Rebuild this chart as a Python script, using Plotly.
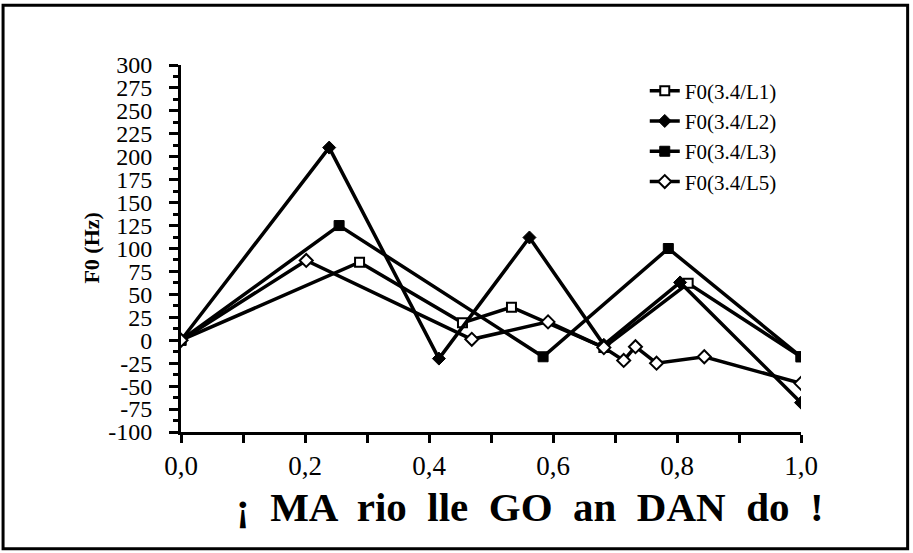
import plotly.graph_objects as go

# Normalised time (0..1) and F0 excursion in Hz for each speaker
t_l1 = [0.0, 0.288, 0.454, 0.533, 0.682, 0.818, 1.0]
f0_l1 = [0, 85, 19, 36, -8, 62, -18]

t_l2 = [0.0, 0.239, 0.416, 0.562, 0.682, 0.805, 1.0]
f0_l2 = [0, 210, -20, 112, -5, 63, -68]

t_l3 = [0.0, 0.255, 0.584, 0.786, 1.0]
f0_l3 = [0, 125, -18, 100, -18]

t_l5 = [0.0, 0.202, 0.469, 0.592, 0.682, 0.714, 0.733, 0.767, 0.844, 1.0]
f0_l5 = [0, 87, 1, 20, -8, -22, -7, -25, -18, -47]

series_names = ["F0(3.4/L1)", "F0(3.4/L2)", "F0(3.4/L3)", "F0(3.4/L5)"]
y_ticks = list(range(-100, 301, 25))
y_ticktext = [str(v) for v in y_ticks]          # plain hyphen for negatives
x_ticks = [0.0, 0.2, 0.4, 0.6, 0.8, 1.0]
x_title = "¡  MA  rio  lle  GO  an  DAN  do  !"
y_title = "F0 (Hz)"

SERIF = "Liberation Serif, Times New Roman, serif"

styles = [
    dict(symbol="square", size=9, color="white", line=dict(color="black", width=2)),
    dict(symbol="diamond", size=10, color="black", line=dict(color="black", width=1)),
    dict(symbol="square", size=10, color="black", line=dict(color="black", width=1)),
    dict(symbol="diamond", size=10, color="white", line=dict(color="black", width=2)),
]

fig = go.Figure()
for name, xs, ys, mk in zip(series_names,
                            [t_l1, t_l2, t_l3, t_l5],
                            [f0_l1, f0_l2, f0_l3, f0_l5],
                            styles):
    fig.add_trace(go.Scatter(
        x=xs, y=ys, name=name, mode="lines+markers",
        line=dict(color="black", width=3.5),
        marker=mk,
    ))

fig.update_layout(
    width=913, height=553,
    margin=dict(l=181, r=112, t=65, b=121),
    paper_bgcolor="white", plot_bgcolor="white",
    font=dict(family=SERIF, color="black", size=24),
    separators=",.",
    showlegend=True,
    legend=dict(
        x=0.748, y=0.985, xanchor="left", yanchor="top",
        bgcolor="rgba(0,0,0,0)",
        font=dict(family=SERIF, size=21, color="black"),
        itemwidth=30, tracegroupgap=0,
    ),
    xaxis=dict(
        range=[0, 1.0], tickvals=x_ticks, tickformat=".1f",
        showgrid=False, zeroline=False,
        showline=True, linecolor="black", linewidth=3,
        ticks="outside", ticklen=8, tickwidth=3, tickcolor="black",
        minor=dict(dtick=0.1, ticks="outside", ticklen=8, tickwidth=3, tickcolor="black"),
        tickfont=dict(family=SERIF, size=27),
    ),
    yaxis=dict(
        range=[-100, 300], tickvals=y_ticks, ticktext=y_ticktext,
        showgrid=False, zeroline=False,
        showline=True, linecolor="black", linewidth=3,
        ticks="outside", ticklen=9, tickwidth=3, tickcolor="black",
        ticklabelstandoff=12,
        minor=dict(dtick=12.5, ticks="outside", ticklen=5, tickwidth=3, tickcolor="black"),
        tickfont=dict(family=SERIF, size=24),
    ),
    annotations=[
        dict(text="<b>" + x_title + "</b>", xref="paper", yref="paper",
             x=0.563, y=-0.205, xanchor="center", yanchor="middle", showarrow=False,
             font=dict(family=SERIF, size=41, color="black")),
        dict(text="<b>" + y_title + "</b>", xref="paper", yref="paper",
             x=-0.145, y=0.5, xanchor="center", yanchor="middle", showarrow=False,
             textangle=-90, font=dict(family=SERIF, size=22, color="black")),
    ],
    shapes=[dict(
        type="rect", xref="paper", yref="paper",
        x0=-0.287, x1=1.172, y0=-0.318, y1=1.163,
        line=dict(color="black", width=3), fillcolor="rgba(0,0,0,0)", layer="below",
    )],
)

fig.write_html("out.html")
